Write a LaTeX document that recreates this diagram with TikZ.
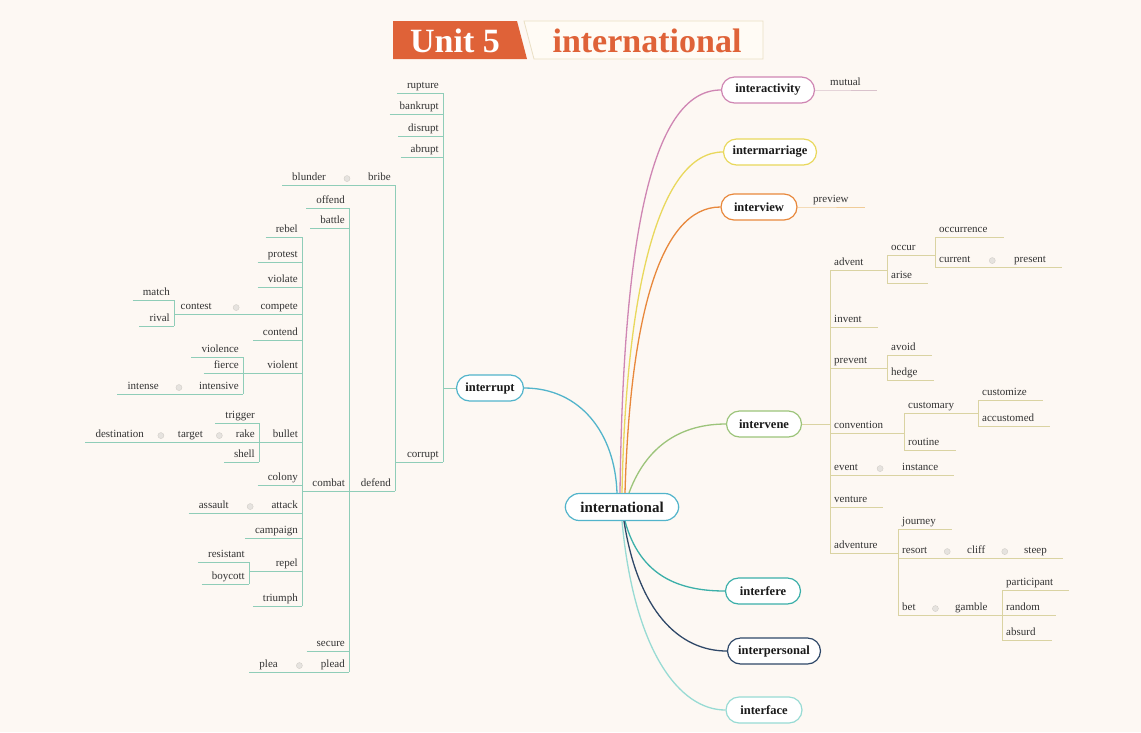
\documentclass[tikz,border=0pt]{standalone}
\usepackage{fontspec}
\setmainfont{Liberation Serif}
\usetikzlibrary{calc}
\definecolor{bg}{HTML}{FDF8F3}
\definecolor{titleO}{HTML}{DF6238}
\definecolor{titleF}{HTML}{FFFBF5}
\definecolor{titleB}{HTML}{EADFC4}
\definecolor{leaftxt}{HTML}{333333}
\definecolor{nodetxt}{HTML}{1A1A1A}
\definecolor{cBlue}{HTML}{52B4CB}
\definecolor{cPink}{HTML}{CF86B3}
\definecolor{cYellow}{HTML}{E9D85C}
\definecolor{cOrange}{HTML}{E8883C}
\definecolor{cGreen}{HTML}{9CC47A}
\definecolor{cTeal}{HTML}{3BAFA9}
\definecolor{cNavy}{HTML}{2F4868}
\definecolor{cAqua}{HTML}{98DBD4}
\definecolor{lineA}{HTML}{8FCDB8}
\definecolor{lineB}{HTML}{DAD3A2}
\definecolor{lineP}{HTML}{D9C2CC}
\definecolor{lineO}{HTML}{F0CC98}
\definecolor{dotc}{HTML}{E6E3DF}
\definecolor{dotb}{HTML}{D2CEC8}
\begin{document}
\begin{tikzpicture}[x=1pt,y=-1pt,
  lf/.style={font=\fontsize{11}{13}\selectfont, text=leaftxt, inner xsep=4pt, inner ysep=1.5pt, text height=0.7em, text depth=0.25em},
  lfL/.style={lf, anchor=south east},
  lfR/.style={lf, anchor=south west},
  br/.style={draw=#1, line width=1.2pt, fill=white, rounded corners=13pt, minimum height=26pt, inner xsep=8pt, font=\bfseries\fontsize{12.5}{14}\selectfont, text=nodetxt},
  bcurve/.style={draw=#1, line width=1.3pt},
  lnA/.style={draw=lineA, line width=0.8pt},
  lnB/.style={draw=lineB, line width=0.8pt},
  reldot/.style={circle, fill=dotc, draw=dotb, line width=0.4pt, inner sep=0pt, minimum size=6pt}]
\useasboundingbox (0,0) rectangle (1141,732);
\fill[bg] (0,0) rectangle (1141,732);

% title
\fill[titleO] (393,21) -- (517,21) -- (527,59) -- (393,59) -- cycle;
\draw[titleB, fill=titleF, line width=0.8pt] (524,21) -- (763,21) -- (763,59) -- (534,59) -- cycle;
\node[font=\bfseries\fontsize{34}{36}\selectfont, text=white] (unit) at (455,41) {Unit 5};
\node[font=\bfseries\fontsize{34}{36}\selectfont, text=titleO] (ttl) at (647,41) {international};

% main topics
\node[br=cBlue, rounded corners=14pt, minimum height=27pt, inner xsep=15pt, font=\bfseries\fontsize{15}{18}\selectfont] (ctr) at (622,507) {international};
\node[br=cBlue, minimum width=67pt] (irp) at (490,388) {interrupt};
\node[br=cPink, minimum width=93pt] (iac) at (768,90) {interactivity};
\node[br=cYellow, minimum width=93pt] (imr) at (770,152) {intermarriage};
\node[br=cOrange, minimum width=76pt] (ivw) at (759,207) {interview};
\node[br=cGreen, minimum width=75pt] (ivn) at (764,424) {intervene};
\node[br=cTeal, minimum width=75pt] (ife) at (763,591) {interfere};
\node[br=cNavy, minimum width=93pt] (ips) at (774,651) {interpersonal};
\node[br=cAqua, minimum width=76pt] (ifc) at (764,710) {interface};

\draw[bcurve=cBlue] ([xshift=-5pt]ctr.north) .. controls +(-2,-60) and +(56,0) .. (irp.east);
\draw[bcurve=cPink] ([xshift=-2pt]ctr.north) .. controls +(3,-244) and +(-72,0) .. (iac.west);
\draw[bcurve=cYellow] (ctr.north) .. controls +(4,-204) and +(-64,0) .. (imr.west);
\draw[bcurve=cOrange] ([xshift=3pt]ctr.north) .. controls +(5,-174) and +(-61,0) .. (ivw.west);
\draw[bcurve=cGreen] ([xshift=7pt]ctr.north) .. controls +(20,-54) and +(-37,0) .. (ivn.west);
\draw[bcurve=cTeal] ([xshift=3pt]ctr.south) .. controls +(15,55) and +(-46,0) .. (ife.west);
\draw[bcurve=cNavy] ([xshift=2pt]ctr.south) .. controls +(14,90) and +(-48,0) .. (ips.west);
\draw[bcurve=cAqua] (ctr.south) .. controls +(12,130) and +(-46,0) .. (ifc.west);

% small branches on the right
\node[lfR] (mut) at (826,90) {mutual};
\draw[draw=lineP, line width=0.8pt] (iac.east) -- (mut.south west) -- ([xshift=12pt]mut.south east);
\node[lfR] (pre) at (809,207) {preview};
\draw[draw=lineO, line width=0.8pt] (ivw.east) -- (pre.south west) -- ([xshift=12pt]pre.south east);

% interrupt branch
\foreach \n/\y/\t in {rup/93/rupture, bkr/114/bankrupt, dis/136/disrupt, abr/157/abrupt, cor/462/corrupt}
  \node[lfL] (\n) at (443,\y) {\t};
\foreach \n/\y/\t in {bri/185/bribe, def/491/defend}
  \node[lfL] (\n) at (395,\y) {\t};
\node[lfL] (blu) at (330,185) {blunder};
\foreach \n/\y/\t in {off/208/offend, bat/228/battle, com/491/combat, sec/651/secure, ple/672/plead}
  \node[lfL] (\n) at (349,\y) {\t};
\node[lfL] (pla) at (282,672) {plea};
\foreach \n/\y/\t in {reb/237/rebel, pro/262/protest, vio/287/violate, cmp/314/compete, ctd/340/contend, vnt/373/violent, bul/442/bullet, col/485/colony, att/513/attack, cam/538/campaign, rep/571/repel, tmp/606/triumph}
  \node[lfL] (\n) at (302,\y) {\t};
\node[lfL] (cts) at (216,314) {contest};
\foreach \n/\y/\t in {mat/300/match, riv/326/rival} \node[lfL] (\n) at (174,\y) {\t};
\foreach \n/\y/\t in {vce/357/violence, fie/373/fierce, ive/394/intensive} \node[lfL] (\n) at (243,\y) {\t};
\node[lfL] (itn) at (163,394) {intense};
\foreach \n/\y/\t in {trg/423/trigger, rak/442/rake, she/462/shell} \node[lfL] (\n) at (259,\y) {\t};
\node[lfL] (tgt) at (207,442) {target};
\node[lfL] (dst) at (148,442) {destination};
\node[lfL] (asl) at (233,513) {assault};
\foreach \n/\y/\t in {rst/562/resistant, boy/584/boycott} \node[lfL] (\n) at (249,\y) {\t};

\foreach \n in {rup,bkr,dis,abr,off,bat,sec,reb,pro,vio,ctd,col,cam,tmp,mat,riv,vce,fie,trg,she,rst,boy}
  \draw[lnA] ([xshift=-6pt]\n.south west) -- (\n.south east);
\foreach \a/\b in {blu/bri, pla/ple, itn/ive, dst/rak, asl/att}
  \draw[lnA] ([xshift=-6pt]\a.south west) -- (\b.south east);
\draw[lnA] (irp.west) -- (rup.south east |- irp.west);
\draw[lnA] (cor.south east) -- (bri.south east |- cor.south);
\draw[lnA] (def.south east) -- (com.south east |- def.south);
\draw[lnA] (com.south east) -- (reb.south east |- com.south);
\draw[lnA] (cmp.south east) -- (mat.south east |- cmp.south);
\draw[lnA] (vnt.south east) -- (vce.south east |- vnt.south);
\draw[lnA] (bul.south east) -- (trg.south east |- bul.south);
\draw[lnA] (rep.south east) -- (rst.south east |- rep.south);
\foreach \a/\b in {rup/cor, bri/def, off/ple, reb/tmp, mat/riv, vce/ive, trg/she, rst/boy}
  \draw[lnA] (\a.south east) -- (\b.south east);

% intervene branch
\foreach \n/\y/\t in {adv/270/advent, inv/327/invent, prv/368/prevent, cnv/433/convention, evt/475/event, ven/507/venture, avt/553/adventure}
  \node[lfR] (\n) at (830,\y) {\t};
\foreach \n/\y/\t in {occ/255/occur, ari/283/arise, avo/355/avoid, hed/380/hedge} \node[lfR] (\n) at (887,\y) {\t};
\foreach \n/\y/\t in {ocr/237/occurrence, cur/267/current} \node[lfR] (\n) at (935,\y) {\t};
\node[lfR] (prs) at (1010,267) {present};
\foreach \n/\y/\t in {cty/413/customary, rou/450/routine} \node[lfR] (\n) at (904,\y) {\t};
\foreach \n/\y/\t in {cze/400/customize, acc/426/accustomed} \node[lfR] (\n) at (978,\y) {\t};
\node[lfR] (ins) at (898,475) {instance};
\foreach \n/\y/\t in {jou/529/journey, rso/558/resort, bet/615/bet} \node[lfR] (\n) at (898,\y) {\t};
\node[lfR] (clf) at (963,558) {cliff};
\node[lfR] (stp) at (1020,558) {steep};
\node[lfR] (gam) at (951,615) {gamble};
\foreach \n/\y/\t in {par/590/participant, ran/615/random, abd/640/absurd} \node[lfR] (\n) at (1002,\y) {\t};

\foreach \n in {inv,ven,ari,avo,hed,ocr,cze,acc,rou,jou,par,ran,abd}
  \draw[lnB] (\n.south west) -- ([xshift=12pt]\n.south east);
\foreach \a/\b in {cur/prs, evt/ins, rso/stp}
  \draw[lnB] (\a.south west) -- ([xshift=12pt]\b.south east);
\draw[lnB] (ivn.east) -- (adv.south west |- ivn.east);
\draw[lnB] (adv.south west) -- (occ.south west |- adv.south);
\draw[lnB] (occ.south west) -- (ocr.south west |- occ.south);
\draw[lnB] (prv.south west) -- (avo.south west |- prv.south);
\draw[lnB] (cnv.south west) -- (cty.south west |- cnv.south);
\draw[lnB] (cty.south west) -- (cze.south west |- cty.south);
\draw[lnB] (avt.south west) -- (jou.south west |- avt.south);
\draw[lnB] (bet.south west) -- (par.south west |- bet.south);
\foreach \a/\b in {adv/avt, occ/ari, ocr/cur, avo/hed, cty/rou, cze/acc, jou/bet, par/abd}
  \draw[lnB] (\a.south west) -- (\b.south west);

% related-word markers
\foreach \a/\b in {blu/bri, pla/ple, cts/cmp, itn/ive, dst/tgt, tgt/rak, asl/att, cur/prs, evt/ins, rso/clf, clf/stp, bet/gam}
  \node[reldot] (m-\a) at ($(\a.east)!.5!(\b.west)$) {};
\end{tikzpicture}
\end{document}
